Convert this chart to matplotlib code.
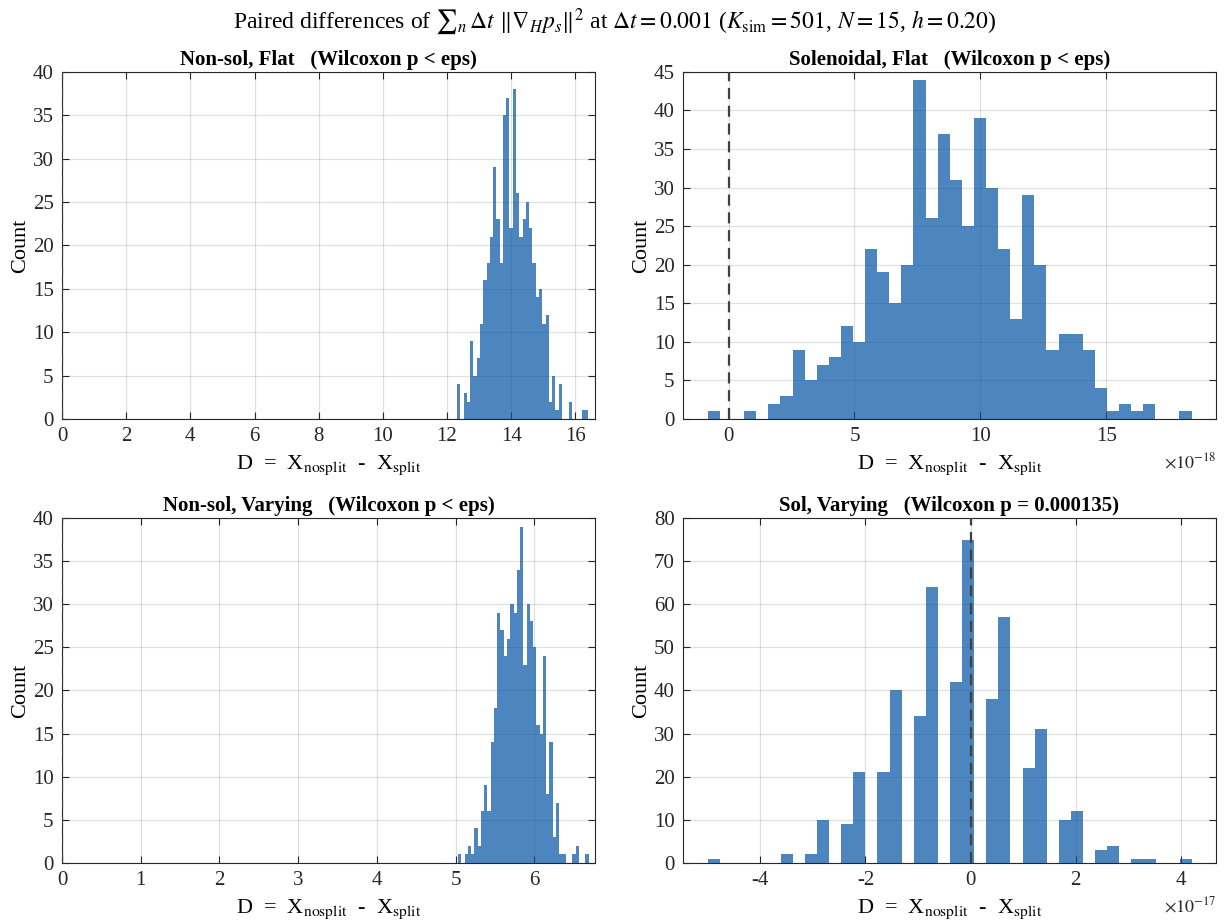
import numpy as np
import matplotlib
matplotlib.use("Agg")
import matplotlib.pyplot as plt

plt.rcParams['font.family'] = ['Liberation Serif', 'DejaVu Serif']
plt.rcParams['mathtext.fontset'] = 'stix'
plt.rcParams['axes.unicode_minus'] = False

# histogram counts (40 bins each) and bin ranges
tl_counts = [4, 0, 3, 2, 9, 5, 7, 11, 16, 18, 21, 29, 23, 18, 35, 37, 22, 38, 26, 21,
             23, 25, 22, 18, 14, 15, 11, 12, 2, 5, 1, 4, 0, 0, 2, 0, 0, 0, 1, 1]
tl_range = (12.31, 16.40)

tr_counts = [1, 0, 0, 1, 0, 2, 3, 9, 5, 7, 8, 12, 10, 22, 19, 15, 20, 44, 26, 37,
             31, 25, 39, 30, 22, 13, 29, 20, 9, 11, 11, 9, 4, 1, 2, 1, 2, 0, 0, 1]
tr_range = (-0.82, 18.39)      # x 1e-18

bl_counts = [1, 0, 1, 2, 1, 4, 2, 6, 9, 6, 14, 18, 29, 27, 24, 26, 30, 29, 34, 39,
             23, 30, 28, 25, 16, 15, 24, 8, 14, 3, 7, 1, 1, 0, 0, 1, 2, 0, 0, 1]
bl_range = (5.03, 6.69)

br_counts = [1, 0, 0, 0, 0, 0, 2, 0, 2, 10, 0, 9, 21, 0, 21, 40, 0, 34, 64, 0,
             42, 75, 0, 38, 57, 0, 22, 31, 0, 10, 12, 0, 3, 4, 0, 1, 1, 0, 0, 1]
br_range = (-4.99, 4.21)       # x 1e-17

titles = ['Non-sol, Flat   (Wilcoxon p < eps)',
          'Solenoidal, Flat   (Wilcoxon p < eps)',
          'Non-sol, Varying   (Wilcoxon p < eps)',
          'Sol, Varying   (Wilcoxon p = 0.000135)']

xlabel = r'D  =  X$_{\mathrm{nosplit}}$  -  X$_{\mathrm{split}}$'
bar_color = '#0252A5'
axc = '#262626'

fig = plt.figure(figsize=(12.3, 9.22), dpi=100)

panels = [
    (tl_counts, tl_range, [0.0504, 0.5456, 0.4333, 0.3764], (0, 16.61), np.arange(0, 17, 2), (0, 40), 5, None),
    (tr_counts, tr_range, [0.5553, 0.5456, 0.4333, 0.3764], (-1.81, 19.36), [0, 5, 10, 15], (0, 45), 5, r'$\times10^{-18}$'),
    (bl_counts, bl_range, [0.0504, 0.0640, 0.4333, 0.3742], (0, 6.77), np.arange(0, 7, 1), (0, 40), 5, None),
    (br_counts, br_range, [0.5553, 0.0640, 0.4333, 0.3742], (-5.47, 4.67), [-4, -2, 0, 2, 4], (0, 80), 10, r'$\times10^{-17}$'),
]

for i, (counts, rng, pos, xlim, xticks, ylim, ystep, offset) in enumerate(panels):
    ax = fig.add_axes(pos)
    edges = np.linspace(rng[0], rng[1], len(counts) + 1)
    ax.bar(edges[:-1], counts, width=np.diff(edges), align='edge',
           color=bar_color, alpha=0.7, edgecolor='none', zorder=2)
    ax.axvline(0, color='#404040', ls=(0, (5, 3)), lw=1.6, zorder=3)
    ax.set_xlim(*xlim)
    ax.set_ylim(*ylim)
    ax.set_xticks(xticks)
    ax.set_yticks(np.arange(ylim[0], ylim[1] + 1, ystep))
    ax.grid(True, color='k', alpha=0.12, lw=0.9, zorder=0)
    ax.set_axisbelow(True)
    ax.tick_params(direction='in', top=True, right=True, length=5, width=0.8,
                   labelsize=15, colors=axc, labelcolor='#262626', pad=6)
    for s in ax.spines.values():
        s.set_color(axc)
        s.set_linewidth(0.8)
    ax.set_title(titles[i], fontsize=15, fontweight='bold', pad=5)
    ax.set_xlabel(xlabel, fontsize=16, labelpad=5)
    ax.set_ylabel('Count', fontsize=16, labelpad=2)
    if offset:
        ax.text(1.0, -0.125, offset, transform=ax.transAxes, ha='right', va='center',
                fontsize=13, color='#262626')

fig.suptitle(r'Paired differences of ${\sum}_n\, \Delta t\ \|\nabla_H p_s\|^2$ at $\Delta t = 0.001$ '
             r'($K_{\mathrm{sim}} = 501$, $N = 15$, $h = 0.20$)', fontsize=17, y=0.993)

fig.savefig('out.png', dpi=100)
